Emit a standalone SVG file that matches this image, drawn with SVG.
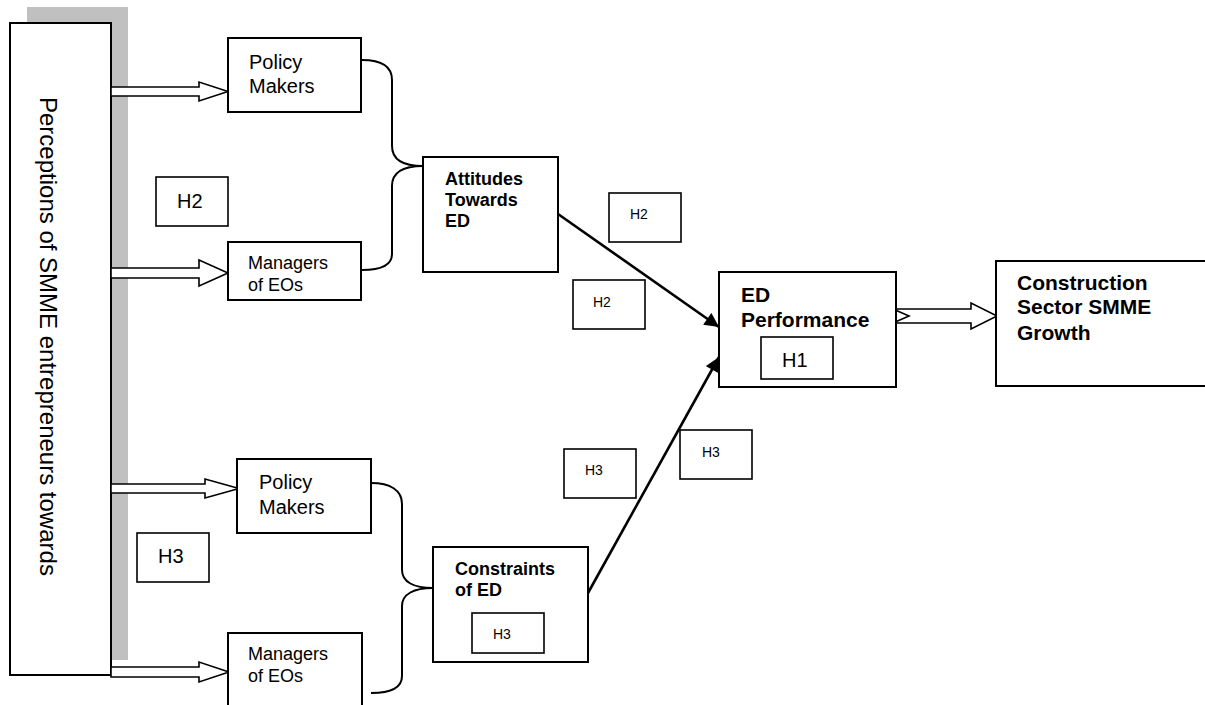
<svg xmlns="http://www.w3.org/2000/svg" width="1205" height="705" viewBox="0 0 1205 705">
<style>
text{font-family:"Liberation Sans",Arial,sans-serif;fill:#000}
.box{fill:#fff;stroke:#000;stroke-width:2}
.hb{fill:#fff;stroke:#000;stroke-width:1.6}
.blk{fill:#fff;stroke:#000;stroke-width:1.6;stroke-linejoin:miter}
.br{fill:none;stroke:#000;stroke-width:2}
.ln{fill:none;stroke:#000;stroke-width:2.6}
.b{font-weight:bold}
</style>
<defs>
<marker id="ah" viewBox="0 0 10 10" refX="10" refY="5" markerWidth="6" markerHeight="5.5" markerUnits="strokeWidth" orient="auto">
<path d="M0,0 L10,5 L0,10 z" fill="#000"/>
</marker>
</defs>
<rect x="27" y="7" width="101" height="653" fill="#c0c0c0"/>
<g id="perceptions">
<rect class="box" x="10" y="23" width="101" height="652"/>
<text x="0" y="0" font-size="24" transform="translate(40,97) rotate(90)">Perceptions of SMME entrepreneurs towards</text>
</g>
<g id="connectors">
<path class="blk" d="M111,87 H199 V82 L228,91.5 L199,101 V96 H111 z"/>
<path class="blk" d="M111,268 H199 V260 L228,273 L199,286 V278 H111 z"/>
<path class="blk" d="M111,484 H205 V479 L239,488.5 L205,498 V493 H111 z"/>
<path class="blk" d="M111,667 H199 V662 L229,672 L199,682 V677 H111 z"/>
<path class="blk" d="M893,309 H971 V303 L997,316 L971,329 V323 H893 L909,316 z"/>
<path class="br" d="M362,60 C382,60 392,66 392,80 V146 C392,160 404,166 423,166 C404,166 392,172 392,186 V254 C392,266 380,270 362,270"/>
<path class="br" d="M371,483 C390,483 402,490 402,504 V570 C402,582 414,588 433,588 C414,588 402,594 402,606 V676 C402,688 390,693 371,693"/>
<line class="ln" x1="558" y1="214" x2="719" y2="327" marker-end="url(#ah)"/>
<line class="ln" x1="588" y1="593" x2="719" y2="357" marker-end="url(#ah)"/>
</g>
<g id="policy-makers-1">
<rect class="box" x="228" y="38" width="133" height="74"/>
<text x="249" y="69" font-size="20">Policy</text>
<text x="249" y="93" font-size="20">Makers</text>
</g>
<g id="h2-left">
<rect class="hb" x="156" y="177" width="72" height="49"/>
<text x="177" y="208" font-size="20">H2</text>
</g>
<g id="managers-1">
<rect class="box" x="228" y="242" width="133" height="58"/>
<text x="248" y="269" font-size="18">Managers</text>
<text x="248" y="291" font-size="18">of EOs</text>
</g>
<g id="attitudes">
<rect class="box" x="423" y="157" width="135" height="115"/>
<text class="b" x="445" y="185" font-size="18">Attitudes</text>
<text class="b" x="445" y="206" font-size="18">Towards</text>
<text class="b" x="445" y="227" font-size="18">ED</text>
</g>
<g id="h2-a">
<rect class="hb" x="609" y="193" width="72" height="49"/>
<text x="630" y="219" font-size="14">H2</text>
</g>
<g id="h2-b">
<rect class="hb" x="573" y="280" width="72" height="49"/>
<text x="593" y="307" font-size="14">H2</text>
</g>
<g id="ed-performance">
<rect class="box" x="719" y="272" width="177" height="115"/>
<text class="b" x="741" y="302" font-size="21">ED</text>
<text class="b" x="741" y="327" font-size="21">Performance</text>
<rect class="hb" x="761" y="337" width="72" height="42"/>
<text x="782" y="367" font-size="20">H1</text>
</g>
<g id="construction">
<rect class="box" x="996" y="261" width="220" height="125"/>
<text class="b" x="1017" y="290" font-size="21">Construction</text>
<text class="b" x="1017" y="314" font-size="21">Sector SMME</text>
<text class="b" x="1017" y="340" font-size="21">Growth</text>
</g>
<g id="h3-a">
<rect class="hb" x="680" y="430" width="72" height="49"/>
<text x="702" y="457" font-size="14">H3</text>
</g>
<g id="h3-b">
<rect class="hb" x="564" y="449" width="72" height="49"/>
<text x="585" y="475" font-size="14">H3</text>
</g>
<g id="policy-makers-2">
<rect class="box" x="237" y="459" width="134" height="74"/>
<text x="259" y="489" font-size="20">Policy</text>
<text x="259" y="514" font-size="20">Makers</text>
</g>
<g id="h3-left">
<rect class="hb" x="137" y="533" width="72" height="49"/>
<text x="158" y="563" font-size="20">H3</text>
</g>
<g id="constraints">
<rect class="box" x="433" y="547" width="155" height="115"/>
<text class="b" x="455" y="575" font-size="18">Constraints</text>
<text class="b" x="455" y="596" font-size="18">of ED</text>
<rect class="hb" x="472" y="613" width="72" height="40"/>
<text x="493" y="639" font-size="14">H3</text>
</g>
<g id="managers-2">
<rect class="box" x="228" y="633" width="134" height="80"/>
<text x="248" y="660" font-size="18">Managers</text>
<text x="248" y="682" font-size="18">of EOs</text>
</g>
</svg>
